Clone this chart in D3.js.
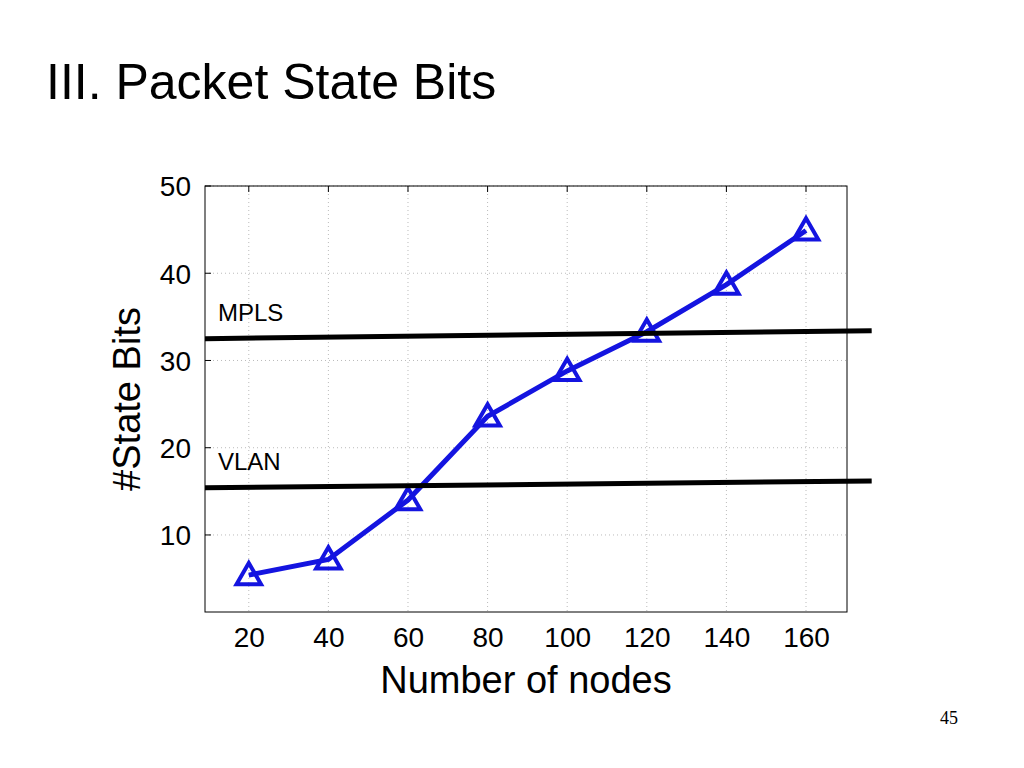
<!DOCTYPE html>
<html><head><meta charset="utf-8">
<script src="https://cdn.jsdelivr.net/npm/d3@7"></script>
<style>body{margin:0;background:#fff}svg{display:block}</style>
</head><body>
<svg id="chart" width="1024" height="768"></svg>
<script>
var nodes = [20, 40, 60, 80, 100, 120, 140, 160];
var stateBits = [5.4, 7.2, 14.0, 23.6, 28.8, 33.3, 38.7, 44.9];
var xTicks = [20, 40, 60, 80, 100, 120, 140, 160];
var yTicks = [10, 20, 30, 40, 50];
var refLines = [
  {name: 'MPLS', from: 32.5, to: 33.4},
  {name: 'VLAN', from: 15.4, to: 16.2}
];

var svg = d3.select('#chart');
var pLeft = 205, pRight = 847, pTop = 186, pBottom = 612;
var x = d3.scaleLinear().domain([9, 170.3]).range([pLeft, pRight]);
var y = d3.scaleLinear().domain([1.17, 50]).range([pBottom, pTop]);
var font = 'Liberation Sans, Arial, sans-serif';

svg.append('text').attr('x', 46).attr('y', 99).attr('font-family', font)
  .attr('font-size', 50).text('III. Packet State Bits');
svg.append('text').attr('x', 940).attr('y', 724).attr('font-family', 'Liberation Serif, serif')
  .attr('font-size', 18).text('45');

// grid
svg.selectAll('.gx').data(xTicks).enter().append('line')
  .attr('x1', function(d) { return x(d); }).attr('x2', function(d) { return x(d); })
  .attr('y1', pTop).attr('y2', pBottom)
  .attr('stroke', '#bbb').attr('stroke-dasharray', '1,3');
svg.selectAll('.gy').data(yTicks).enter().append('line')
  .attr('y1', function(d) { return y(d); }).attr('y2', function(d) { return y(d); })
  .attr('x1', pLeft).attr('x2', pRight)
  .attr('stroke', '#bbb').attr('stroke-dasharray', '1,3');

var xAxis = svg.append('g').attr('transform', 'translate(0,' + pBottom + ')')
  .call(d3.axisBottom(x).tickValues(xTicks).tickSize(0).tickPadding(10));
var yAxis = svg.append('g').attr('transform', 'translate(' + pLeft + ',0)')
  .call(d3.axisLeft(y).tickValues(yTicks).tickSize(0).tickPadding(14));
[xAxis, yAxis].forEach(function(g) {
  g.select('.domain').remove();
  g.selectAll('text').attr('font-family', font).attr('font-size', 28).attr('fill', '#000');
});
xAxis.selectAll('text').attr('dy', '0.9em');
yAxis.selectAll('text').attr('dy', '0.35em');

// ticks
svg.selectAll('.tt').data(xTicks).enter().append('line')
  .attr('x1', function(d) { return x(d); }).attr('x2', function(d) { return x(d); })
  .attr('y1', pTop).attr('y2', pTop + 6).attr('stroke', '#000');
svg.selectAll('.ty').data(yTicks).enter().append('line')
  .attr('y1', function(d) { return y(d); }).attr('y2', function(d) { return y(d); })
  .attr('x1', pLeft).attr('x2', pLeft + 6).attr('stroke', '#000');

svg.append('rect').attr('x', pLeft).attr('y', pTop).attr('width', pRight - pLeft)
  .attr('height', pBottom - pTop).attr('fill', 'none').attr('stroke', '#000').attr('stroke-width', 1);

svg.append('text').attr('x', (pLeft + pRight) / 2).attr('y', 693).attr('text-anchor', 'middle')
  .attr('font-family', font).attr('font-size', 38).text('Number of nodes');
svg.append('text').attr('transform', 'translate(140,' + ((pTop + pBottom) / 2) + ') rotate(-90)')
  .attr('text-anchor', 'middle').attr('font-family', font).attr('font-size', 38).text('#State Bits');

// series
var line = d3.line().x(function(d, i) { return x(nodes[i]); }).y(function(d) { return y(d); });
svg.append('path').datum(stateBits).attr('d', line).attr('fill', 'none')
  .attr('stroke', '#1414e0').attr('stroke-width', 5);
var tri = d3.symbol().type(d3.symbolTriangle).size(260);
svg.selectAll('.pt').data(stateBits).enter().append('path')
  .attr('d', tri)
  .attr('transform', function(d, i) { return 'translate(' + x(nodes[i]) + ',' + (y(d) + 2) + ')'; })
  .attr('fill', 'none').attr('stroke', '#1414e0').attr('stroke-width', 4);

// reference lines
var x0 = 9, x1 = 176.5;
refLines.forEach(function(r) {
  svg.append('line').attr('x1', x(x0)).attr('x2', x(x1))
    .attr('y1', y(r.from)).attr('y2', y(r.to)).attr('stroke', '#000').attr('stroke-width', 5);
  svg.append('text').attr('x', 218).attr('y', y(r.from) - 18).attr('font-family', font)
    .attr('font-size', 24).text(r.name);
});
</script>
</body></html>
